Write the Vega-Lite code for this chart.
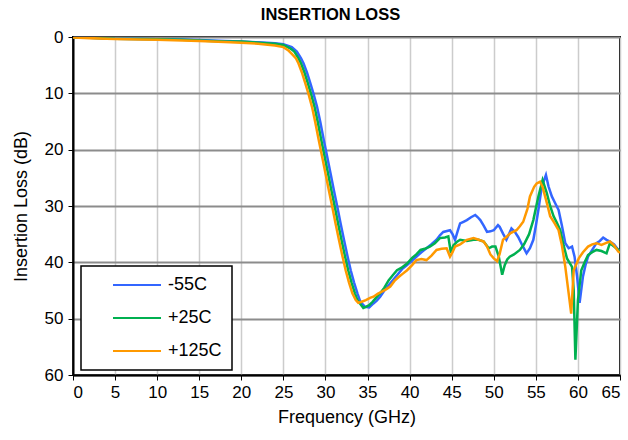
{
  "$schema": "https://vega.github.io/schema/vega-lite/v6.json",
  "width": 547,
  "height": 338,
  "autosize": {"type": "none"},
  "padding": {"left": 73, "top": 37, "right": 8, "bottom": 65},
  "background": "white",
  "title": {"text": "INSERTION LOSS", "fontSize": 16.5, "fontWeight": "bold", "font": "Liberation Sans", "color": "black", "offset": 5, "dx": -16},
  "config": {
    "font": "Liberation Sans",
    "view": {"stroke": "black", "strokeWidth": 2},
    "axis": {"labelFontSize": 17, "labelColor": "black", "titleFontSize": 18, "titleFontWeight": "normal", "titleColor": "black", "domainColor": "black", "domainWidth": 2, "tickColor": "black", "tickSize": 5, "labelPadding": 4},
    "axisX": {"gridColor": "#cccccc", "gridWidth": 1.5, "titlePadding": 8},
    "axisY": {"gridColor": "#8c8c8c", "gridWidth": 1.8, "titlePadding": 14, "labelPadding": 5},
    "legend": {"orient": "none", "legendX": 8, "legendY": 229, "strokeColor": "black", "strokeWidth": 1.5, "fillColor": "white", "padding": 10, "symbolType": "M-4,0H4", "symbolSize": 144, "symbolStrokeWidth": 2, "labelFontSize": 18, "labelColor": "black", "labelOffset": 22, "rowPadding": 15, "symbolOffset": 37}
  },
  "data": {"values": [
    {"f":0,"v":0.1,"s":"-55C"},{"f":2,"v":0.15,"s":"-55C"},{"f":5,"v":0.3,"s":"-55C"},{"f":8,"v":0.35,"s":"-55C"},{"f":10,"v":0.4,"s":"-55C"},{"f":13,"v":0.45,"s":"-55C"},{"f":15,"v":0.55,"s":"-55C"},{"f":18,"v":0.7,"s":"-55C"},{"f":20,"v":0.8,"s":"-55C"},{"f":22,"v":0.95,"s":"-55C"},{"f":24,"v":1.1,"s":"-55C"},{"f":25,"v":1.3,"s":"-55C"},{"f":26,"v":1.8,"s":"-55C"},{"f":26.6,"v":2.6,"s":"-55C"},{"f":27.1,"v":3.8,"s":"-55C"},{"f":27.4,"v":4.7,"s":"-55C"},{"f":27.8,"v":6.3,"s":"-55C"},{"f":28.2,"v":8.2,"s":"-55C"},{"f":28.6,"v":10.2,"s":"-55C"},{"f":29.0,"v":12.4,"s":"-55C"},{"f":29.4,"v":15.2,"s":"-55C"},{"f":29.8,"v":18.3,"s":"-55C"},{"f":30.2,"v":21.2,"s":"-55C"},{"f":30.6,"v":24.2,"s":"-55C"},{"f":31.0,"v":27.2,"s":"-55C"},{"f":31.4,"v":30.1,"s":"-55C"},{"f":31.8,"v":33.1,"s":"-55C"},{"f":32.2,"v":36,"s":"-55C"},{"f":32.6,"v":38.8,"s":"-55C"},{"f":33.0,"v":41.4,"s":"-55C"},{"f":33.4,"v":43.6,"s":"-55C"},{"f":33.8,"v":45.5,"s":"-55C"},{"f":34.1,"v":46.8,"s":"-55C"},{"f":34.4,"v":47.4,"s":"-55C"},{"f":34.7,"v":47.9,"s":"-55C"},{"f":35.2,"v":48.0,"s":"-55C"},{"f":35.7,"v":47.3,"s":"-55C"},{"f":36.1,"v":46.8,"s":"-55C"},{"f":36.5,"v":46.1,"s":"-55C"},{"f":37,"v":45,"s":"-55C"},{"f":37.7,"v":43.7,"s":"-55C"},{"f":38.1,"v":43,"s":"-55C"},{"f":38.5,"v":42.3,"s":"-55C"},{"f":39.1,"v":41.2,"s":"-55C"},{"f":39.7,"v":40.5,"s":"-55C"},{"f":40.2,"v":39.8,"s":"-55C"},{"f":40.8,"v":39,"s":"-55C"},{"f":41.4,"v":38.2,"s":"-55C"},{"f":42,"v":37.5,"s":"-55C"},{"f":42.6,"v":36.8,"s":"-55C"},{"f":43.2,"v":36,"s":"-55C"},{"f":43.6,"v":35.2,"s":"-55C"},{"f":44,"v":34.6,"s":"-55C"},{"f":44.8,"v":34.3,"s":"-55C"},{"f":45.1,"v":35,"s":"-55C"},{"f":45.4,"v":36,"s":"-55C"},{"f":45.7,"v":34.5,"s":"-55C"},{"f":46,"v":33.1,"s":"-55C"},{"f":46.4,"v":32.8,"s":"-55C"},{"f":46.8,"v":32.5,"s":"-55C"},{"f":47.3,"v":32,"s":"-55C"},{"f":47.8,"v":31.6,"s":"-55C"},{"f":48.1,"v":32,"s":"-55C"},{"f":48.4,"v":32.5,"s":"-55C"},{"f":48.8,"v":33.5,"s":"-55C"},{"f":49.2,"v":34.6,"s":"-55C"},{"f":49.6,"v":34.5,"s":"-55C"},{"f":50,"v":34.3,"s":"-55C"},{"f":50.5,"v":33.4,"s":"-55C"},{"f":50.7,"v":33.7,"s":"-55C"},{"f":51.1,"v":34.9,"s":"-55C"},{"f":51.5,"v":36,"s":"-55C"},{"f":52.1,"v":34,"s":"-55C"},{"f":52.5,"v":34.6,"s":"-55C"},{"f":52.9,"v":35.5,"s":"-55C"},{"f":53.4,"v":37,"s":"-55C"},{"f":53.9,"v":38.4,"s":"-55C"},{"f":54.3,"v":37.5,"s":"-55C"},{"f":54.7,"v":36,"s":"-55C"},{"f":55.0,"v":33.5,"s":"-55C"},{"f":55.3,"v":30.7,"s":"-55C"},{"f":55.7,"v":26.6,"s":"-55C"},{"f":56.2,"v":24.5,"s":"-55C"},{"f":56.5,"v":26.5,"s":"-55C"},{"f":56.9,"v":28.3,"s":"-55C"},{"f":57.3,"v":29.5,"s":"-55C"},{"f":57.7,"v":30.7,"s":"-55C"},{"f":58.1,"v":33.5,"s":"-55C"},{"f":58.5,"v":36.6,"s":"-55C"},{"f":58.9,"v":37.5,"s":"-55C"},{"f":59.3,"v":37.2,"s":"-55C"},{"f":59.6,"v":39,"s":"-55C"},{"f":59.9,"v":42.5,"s":"-55C"},{"f":60.2,"v":47.2,"s":"-55C"},{"f":60.6,"v":42.5,"s":"-55C"},{"f":60.9,"v":40.5,"s":"-55C"},{"f":61.2,"v":39,"s":"-55C"},{"f":61.7,"v":37.8,"s":"-55C"},{"f":62.2,"v":36.6,"s":"-55C"},{"f":62.6,"v":36.2,"s":"-55C"},{"f":63,"v":35.6,"s":"-55C"},{"f":63.4,"v":36,"s":"-55C"},{"f":63.8,"v":36.3,"s":"-55C"},{"f":64.3,"v":36.8,"s":"-55C"},{"f":64.8,"v":37.8,"s":"-55C"},{"f":65,"v":38,"s":"-55C"},

    {"f":0,"v":0.1,"s":"+25C"},{"f":2,"v":0.15,"s":"+25C"},{"f":5,"v":0.3,"s":"+25C"},{"f":8,"v":0.35,"s":"+25C"},{"f":10,"v":0.4,"s":"+25C"},{"f":13,"v":0.5,"s":"+25C"},{"f":15,"v":0.6,"s":"+25C"},{"f":18,"v":0.8,"s":"+25C"},{"f":20,"v":0.8,"s":"+25C"},{"f":22,"v":1.0,"s":"+25C"},{"f":24,"v":1.2,"s":"+25C"},{"f":25,"v":1.4,"s":"+25C"},{"f":25.8,"v":2.0,"s":"+25C"},{"f":26.3,"v":2.6,"s":"+25C"},{"f":26.8,"v":3.8,"s":"+25C"},{"f":27.1,"v":4.7,"s":"+25C"},{"f":27.5,"v":6.3,"s":"+25C"},{"f":27.9,"v":8.2,"s":"+25C"},{"f":28.3,"v":10.2,"s":"+25C"},{"f":28.7,"v":12.4,"s":"+25C"},{"f":29.1,"v":15.2,"s":"+25C"},{"f":29.5,"v":18.3,"s":"+25C"},{"f":29.9,"v":21.2,"s":"+25C"},{"f":30.3,"v":24.2,"s":"+25C"},{"f":30.7,"v":27.2,"s":"+25C"},{"f":31.1,"v":30.1,"s":"+25C"},{"f":31.5,"v":33.1,"s":"+25C"},{"f":31.9,"v":36,"s":"+25C"},{"f":32.3,"v":38.8,"s":"+25C"},{"f":32.7,"v":41.4,"s":"+25C"},{"f":33.1,"v":43.6,"s":"+25C"},{"f":33.5,"v":45.5,"s":"+25C"},{"f":33.8,"v":46.7,"s":"+25C"},{"f":34.1,"v":47.3,"s":"+25C"},{"f":34.5,"v":48.1,"s":"+25C"},{"f":34.8,"v":47.9,"s":"+25C"},{"f":35.2,"v":47.6,"s":"+25C"},{"f":35.6,"v":47.0,"s":"+25C"},{"f":36.0,"v":46.3,"s":"+25C"},{"f":36.5,"v":45.5,"s":"+25C"},{"f":37,"v":44.5,"s":"+25C"},{"f":37.5,"v":43.2,"s":"+25C"},{"f":38,"v":42.3,"s":"+25C"},{"f":38.5,"v":41.4,"s":"+25C"},{"f":39,"v":41.0,"s":"+25C"},{"f":39.7,"v":40.2,"s":"+25C"},{"f":40.3,"v":39.2,"s":"+25C"},{"f":40.8,"v":38.6,"s":"+25C"},{"f":41.3,"v":37.8,"s":"+25C"},{"f":41.8,"v":37.6,"s":"+25C"},{"f":42.4,"v":37.2,"s":"+25C"},{"f":43,"v":36.6,"s":"+25C"},{"f":43.6,"v":35.7,"s":"+25C"},{"f":44.2,"v":35.6,"s":"+25C"},{"f":44.6,"v":35.4,"s":"+25C"},{"f":44.9,"v":38.3,"s":"+25C"},{"f":45.2,"v":37.0,"s":"+25C"},{"f":45.6,"v":36.4,"s":"+25C"},{"f":46,"v":36,"s":"+25C"},{"f":46.8,"v":36.2,"s":"+25C"},{"f":47.6,"v":36,"s":"+25C"},{"f":48.2,"v":36.0,"s":"+25C"},{"f":48.8,"v":36.3,"s":"+25C"},{"f":49.4,"v":37.5,"s":"+25C"},{"f":49.8,"v":37.2,"s":"+25C"},{"f":50.2,"v":37.2,"s":"+25C"},{"f":50.6,"v":39,"s":"+25C"},{"f":51,"v":42.2,"s":"+25C"},{"f":51.3,"v":40.5,"s":"+25C"},{"f":51.6,"v":39.5,"s":"+25C"},{"f":51.9,"v":39,"s":"+25C"},{"f":52.4,"v":38.6,"s":"+25C"},{"f":53.1,"v":37.8,"s":"+25C"},{"f":53.6,"v":36.8,"s":"+25C"},{"f":54.2,"v":35,"s":"+25C"},{"f":54.7,"v":32.5,"s":"+25C"},{"f":55.3,"v":28.3,"s":"+25C"},{"f":55.8,"v":25.4,"s":"+25C"},{"f":56.3,"v":27.7,"s":"+25C"},{"f":56.7,"v":30,"s":"+25C"},{"f":57.1,"v":31.8,"s":"+25C"},{"f":57.5,"v":33,"s":"+25C"},{"f":57.9,"v":34.3,"s":"+25C"},{"f":58.3,"v":37,"s":"+25C"},{"f":58.7,"v":39.3,"s":"+25C"},{"f":59.3,"v":40.8,"s":"+25C"},{"f":59.5,"v":45,"s":"+25C"},{"f":59.7,"v":57.3,"s":"+25C"},{"f":60,"v":46.7,"s":"+25C"},{"f":60.4,"v":41.4,"s":"+25C"},{"f":60.8,"v":40,"s":"+25C"},{"f":61.2,"v":38.7,"s":"+25C"},{"f":61.7,"v":38.2,"s":"+25C"},{"f":62.2,"v":37.8,"s":"+25C"},{"f":62.8,"v":38,"s":"+25C"},{"f":63.4,"v":38.4,"s":"+25C"},{"f":63.8,"v":36.6,"s":"+25C"},{"f":64.3,"v":37.2,"s":"+25C"},{"f":64.8,"v":37.8,"s":"+25C"},{"f":65,"v":38.2,"s":"+25C"},

    {"f":0,"v":0.1,"s":"+125C"},{"f":2,"v":0.2,"s":"+125C"},{"f":5,"v":0.35,"s":"+125C"},{"f":8,"v":0.45,"s":"+125C"},{"f":10,"v":0.5,"s":"+125C"},{"f":13,"v":0.6,"s":"+125C"},{"f":15,"v":0.7,"s":"+125C"},{"f":18,"v":0.9,"s":"+125C"},{"f":20,"v":1.0,"s":"+125C"},{"f":22,"v":1.2,"s":"+125C"},{"f":24,"v":1.5,"s":"+125C"},{"f":25,"v":1.8,"s":"+125C"},{"f":25.6,"v":2.4,"s":"+125C"},{"f":26.0,"v":3.0,"s":"+125C"},{"f":26.5,"v":3.8,"s":"+125C"},{"f":26.8,"v":4.7,"s":"+125C"},{"f":27.2,"v":6.3,"s":"+125C"},{"f":27.6,"v":8.2,"s":"+125C"},{"f":28.0,"v":10.2,"s":"+125C"},{"f":28.4,"v":12.4,"s":"+125C"},{"f":28.8,"v":15.2,"s":"+125C"},{"f":29.2,"v":18.3,"s":"+125C"},{"f":29.6,"v":21.2,"s":"+125C"},{"f":30.0,"v":24.2,"s":"+125C"},{"f":30.4,"v":27.2,"s":"+125C"},{"f":30.8,"v":30.1,"s":"+125C"},{"f":31.2,"v":33.1,"s":"+125C"},{"f":31.6,"v":36,"s":"+125C"},{"f":32.0,"v":38.8,"s":"+125C"},{"f":32.4,"v":41.4,"s":"+125C"},{"f":32.8,"v":43.6,"s":"+125C"},{"f":33.2,"v":45.5,"s":"+125C"},{"f":33.6,"v":46.7,"s":"+125C"},{"f":33.9,"v":47.2,"s":"+125C"},{"f":34.3,"v":47.0,"s":"+125C"},{"f":34.8,"v":46.7,"s":"+125C"},{"f":35.3,"v":46.3,"s":"+125C"},{"f":35.7,"v":46.1,"s":"+125C"},{"f":36.2,"v":45.6,"s":"+125C"},{"f":36.7,"v":45.2,"s":"+125C"},{"f":37.2,"v":44.8,"s":"+125C"},{"f":37.7,"v":44.3,"s":"+125C"},{"f":38.2,"v":43.3,"s":"+125C"},{"f":38.7,"v":42.6,"s":"+125C"},{"f":39.2,"v":42,"s":"+125C"},{"f":39.7,"v":41.4,"s":"+125C"},{"f":40.3,"v":40.5,"s":"+125C"},{"f":40.8,"v":39.6,"s":"+125C"},{"f":41.4,"v":39.4,"s":"+125C"},{"f":42,"v":39.6,"s":"+125C"},{"f":42.6,"v":38.8,"s":"+125C"},{"f":43.2,"v":37.8,"s":"+125C"},{"f":43.8,"v":37.6,"s":"+125C"},{"f":44.4,"v":37.5,"s":"+125C"},{"f":44.8,"v":39,"s":"+125C"},{"f":45.1,"v":38.2,"s":"+125C"},{"f":45.4,"v":37.2,"s":"+125C"},{"f":46,"v":36.8,"s":"+125C"},{"f":46.8,"v":36,"s":"+125C"},{"f":47.6,"v":35.7,"s":"+125C"},{"f":48.2,"v":36,"s":"+125C"},{"f":48.8,"v":36.3,"s":"+125C"},{"f":49.2,"v":37.2,"s":"+125C"},{"f":49.6,"v":38.6,"s":"+125C"},{"f":50,"v":39.3,"s":"+125C"},{"f":50.4,"v":39.8,"s":"+125C"},{"f":50.7,"v":38.5,"s":"+125C"},{"f":51.1,"v":36,"s":"+125C"},{"f":51.5,"v":35.5,"s":"+125C"},{"f":52,"v":34.8,"s":"+125C"},{"f":52.7,"v":34.3,"s":"+125C"},{"f":53.1,"v":33.6,"s":"+125C"},{"f":53.5,"v":32.8,"s":"+125C"},{"f":54,"v":30.5,"s":"+125C"},{"f":54.3,"v":28.3,"s":"+125C"},{"f":54.8,"v":26.6,"s":"+125C"},{"f":55.1,"v":26,"s":"+125C"},{"f":55.5,"v":25.7,"s":"+125C"},{"f":55.8,"v":26.6,"s":"+125C"},{"f":56.1,"v":28.3,"s":"+125C"},{"f":56.4,"v":30,"s":"+125C"},{"f":56.7,"v":31.8,"s":"+125C"},{"f":57.2,"v":33,"s":"+125C"},{"f":57.7,"v":34.3,"s":"+125C"},{"f":58.1,"v":37,"s":"+125C"},{"f":58.5,"v":40.8,"s":"+125C"},{"f":58.9,"v":45.5,"s":"+125C"},{"f":59.2,"v":49.1,"s":"+125C"},{"f":59.5,"v":41.4,"s":"+125C"},{"f":60.1,"v":39.3,"s":"+125C"},{"f":60.6,"v":38.2,"s":"+125C"},{"f":61.2,"v":37.2,"s":"+125C"},{"f":61.7,"v":36.8,"s":"+125C"},{"f":62.2,"v":36.6,"s":"+125C"},{"f":62.8,"v":36.9,"s":"+125C"},{"f":63.3,"v":36.6,"s":"+125C"},{"f":63.8,"v":36.3,"s":"+125C"},{"f":64.3,"v":37,"s":"+125C"},{"f":64.8,"v":38.1,"s":"+125C"},{"f":65,"v":38.3,"s":"+125C"}
  ]},
  "mark": {"type": "line", "strokeWidth": 2.5, "clip": true},
  "encoding": {
    "x": {"field": "f", "type": "quantitative", "title": "Frequency (GHz)", "scale": {"domain": [0, 65], "nice": false, "zero": false}, "axis": {"values": [0,5,10,15,20,25,30,35,40,45,50,55,60,65]}},
    "y": {"field": "v", "type": "quantitative", "title": "Insertion Loss (dB)", "scale": {"domain": [0, 60], "reverse": true, "nice": false}, "axis": {"values": [0,10,20,30,40,50,60]}},
    "color": {"field": "s", "type": "nominal", "title": null, "scale": {"domain": ["-55C", "+25C", "+125C"], "range": ["#3366ff", "#00b050", "#ff9900"]}, "legend": {"labelExpr": "datum.label + '\u2007\u2007\u2007'"}}
  }
}
